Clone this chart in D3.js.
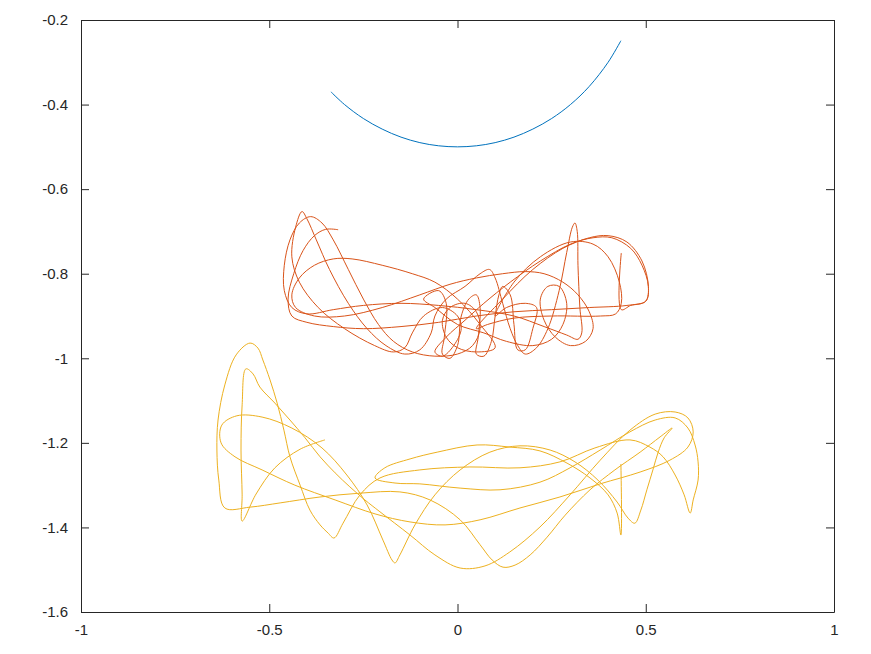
<!DOCTYPE html>
<html><head><meta charset="utf-8">
<script src="https://cdn.jsdelivr.net/npm/d3@7"></script>
<style>body{margin:0;background:#fff}svg{display:block}</style>
</head><body>
<svg id="c" width="871" height="654"></svg>
<script>
const xTicks = [-1, -0.5, 0, 0.5, 1];
const xTickLabels = ["-1", "-0.5", "0", "0.5", "1"];
const yTicks = [-1.6, -1.4, -1.2, -1, -0.8, -0.6, -0.4, -0.2];
const yTickLabels = ["-1.6", "-1.4", "-1.2", "-1", "-0.8", "-0.6", "-0.4", "-0.2"];
const seriesNames = ["bob1", "bob2", "bob3"];
const seriesColors = ["#0072BD", "#D95319", "#EDB120"];

const bob1 = [[-0.336,-0.370],[-0.30,-0.400],[-0.25,-0.433],[-0.20,-0.458],[-0.15,-0.477],[-0.10,-0.490],[-0.05,-0.4975],[0,-0.500],[0.05,-0.4975],[0.10,-0.490],[0.15,-0.477],[0.20,-0.458],[0.25,-0.433],[0.30,-0.400],[0.35,-0.357],[0.40,-0.300],[0.434,-0.249]];

const bob2 = [
[-0.317,-0.696],[-0.35,-0.695],[-0.38,-0.71],[-0.41,-0.745],[-0.435,-0.80],[-0.45,-0.86],[-0.44,-0.90],[-0.40,-0.915],
[-0.33,-0.925],[-0.25,-0.93],[-0.15,-0.925],[-0.05,-0.915],[0.05,-0.90],[0.15,-0.89],[0.25,-0.885],[0.35,-0.88],[0.45,-0.875],[0.50,-0.865],
[0.507,-0.83],[0.49,-0.78],[0.46,-0.74],[0.41,-0.715],[0.36,-0.715],[0.30,-0.73],[0.22,-0.77],[0.14,-0.82],[0.07,-0.87],[0.02,-0.91],[-0.03,-0.95],[-0.06,-0.985],[-0.04,-0.995],[-0.01,-0.97],[0.01,-0.93],
[0.0,-0.90],[-0.04,-0.88],[-0.09,-0.90],[-0.12,-0.94],[-0.14,-0.975],[-0.17,-0.985],[-0.22,-0.97],[-0.30,-0.93],[-0.37,-0.88],[-0.42,-0.82],[-0.44,-0.76],[-0.43,-0.69],[-0.413,-0.653],[-0.40,-0.67],[-0.375,-0.72],[-0.34,-0.79],[-0.29,-0.87],[-0.24,-0.93],[-0.19,-0.97],[-0.14,-0.99],[-0.10,-0.98],[-0.07,-0.94],[-0.06,-0.90],
[-0.03,-0.86],[0.02,-0.83],[0.06,-0.80],[0.085,-0.79],[0.10,-0.81],[0.12,-0.87],[0.14,-0.93],[0.16,-0.97],[0.18,-0.99],[0.21,-0.975],[0.24,-0.93],[0.27,-0.84],[0.29,-0.75],[0.305,-0.69],[0.312,-0.68],[0.318,-0.70],[0.32,-0.78],[0.325,-0.88],[0.33,-0.94],[0.32,-0.955],[0.29,-0.945],[0.23,-0.925],[0.15,-0.90],[0.05,-0.885],[-0.05,-0.875],[-0.15,-0.87],[-0.25,-0.875],[-0.33,-0.885],[-0.40,-0.895],[-0.44,-0.88],
[-0.46,-0.84],[-0.46,-0.78],[-0.445,-0.72],[-0.42,-0.68],[-0.39,-0.665],[-0.36,-0.68],[-0.33,-0.72],[-0.29,-0.79],[-0.25,-0.86],[-0.21,-0.92],[-0.17,-0.96],[-0.12,-0.985],[-0.06,-0.995],[0.0,-0.99],[0.04,-0.97],
[0.06,-0.93],[0.05,-0.89],[0.02,-0.87],[-0.02,-0.88],[-0.04,-0.91],[-0.03,-0.95],[0.0,-0.975],[0.05,-0.985],[0.10,-0.975],
[0.06,-0.92],[0.0,-0.86],[-0.06,-0.82],[-0.12,-0.80],[-0.20,-0.78],[-0.28,-0.765],[-0.33,-0.765],[-0.38,-0.78],[-0.42,-0.81],[-0.44,-0.85],[-0.43,-0.88],[-0.38,-0.90],[-0.30,-0.90],[-0.20,-0.88],[-0.10,-0.85],[-0.02,-0.825],[0.05,-0.81],[0.12,-0.80],[0.18,-0.795],[0.23,-0.80],[0.28,-0.82],[0.32,-0.85],[0.35,-0.89],[0.36,-0.93],[0.34,-0.96],
[0.30,-0.97],[0.26,-0.95],[0.23,-0.91],[0.22,-0.86],[0.24,-0.83],[0.27,-0.83],[0.29,-0.87],[0.28,-0.92],[0.25,-0.955],[0.20,-0.97],[0.13,-0.96],[0.07,-0.94],
[0.0,-0.92],[-0.06,-0.88],[-0.09,-0.86],[-0.05,-0.84],[-0.03,-0.87],[-0.035,-0.95],[-0.04,-0.99],[-0.02,-1.0],[0.0,-0.97],[0.01,-0.90],[0.03,-0.86],[0.05,-0.85],[0.06,-0.88],[0.055,-0.95],[0.05,-0.99],[0.07,-0.995],[0.09,-0.96],[0.10,-0.90],[0.11,-0.85],[0.12,-0.83],[0.14,-0.85],[0.15,-0.92],[0.16,-0.98],[0.18,-0.98],[0.20,-0.93],[0.21,-0.88],[0.18,-0.87],[0.13,-0.88],
[0.10,-0.90],[0.15,-0.82],[0.22,-0.76],[0.30,-0.725],[0.36,-0.73],[0.40,-0.76],[0.43,-0.82],[0.435,-0.87],[0.42,-0.895],[0.38,-0.90],[0.25,-0.90],[0.15,-0.905],[0.08,-0.92],
[0.05,-0.93],[0.12,-0.86],[0.20,-0.79],[0.28,-0.74],[0.35,-0.715],[0.40,-0.71],[0.45,-0.725],[0.49,-0.77],[0.507,-0.83],[0.50,-0.865],[0.46,-0.875],[0.435,-0.885],[0.435,-0.751]
];

const bob3 = [
[-0.352,-1.193],[-0.418,-1.215],[-0.485,-1.259],[-0.535,-1.321],[-0.572,-1.385],
[-0.572,-1.323],[-0.575,-1.217],[-0.572,-1.110],[-0.562,-1.025],[-0.543,-1.037],[-0.525,-1.068],[-0.485,-1.106],[-0.445,-1.146],[-0.405,-1.188],[-0.365,-1.233],[-0.325,-1.271],[-0.286,-1.304],[-0.246,-1.335],[-0.206,-1.363],[-0.126,-1.418],[-0.060,-1.465],[0.007,-1.496],[0.073,-1.491],[0.139,-1.458],[0.219,-1.399],[0.299,-1.323],[0.379,-1.241],[0.458,-1.170],[0.525,-1.132],[0.578,-1.127],[0.612,-1.141],[0.626,-1.174],[0.612,-1.210],[0.564,-1.241],[0.485,-1.269],[0.379,-1.297],[0.272,-1.328],[0.166,-1.354],[0.060,-1.382],[-0.033,-1.394],[-0.126,-1.387],[-0.219,-1.368],[-0.325,-1.335],[-0.432,-1.300],[-0.519,-1.264],[-0.591,-1.233],[-0.628,-1.200],[-0.626,-1.158],[-0.586,-1.136],[-0.519,-1.139],[-0.440,-1.165],[-0.360,-1.212],[-0.294,-1.276],[-0.240,-1.347],[-0.198,-1.430],[-0.174,-1.477],[-0.166,-1.484],[-0.153,-1.465],[-0.113,-1.394],[-0.060,-1.323],[0.007,-1.264],[0.086,-1.222],[0.166,-1.207],[0.246,-1.217],[0.312,-1.245],[0.373,-1.288],[0.424,-1.340],[0.453,-1.378],[0.471,-1.390],[0.487,-1.359],[0.503,-1.311],[0.519,-1.264],[0.533,-1.222],[0.549,-1.188],[0.570,-1.165],[0.538,-1.186],[0.485,-1.222],[0.418,-1.264],[0.352,-1.311],[0.286,-1.371],[0.238,-1.423],[0.193,-1.465],[0.153,-1.489],[0.121,-1.494],
[0.092,-1.477],[0.060,-1.441],[0.007,-1.382],[-0.073,-1.335],[-0.153,-1.316],[-0.259,-1.319],[-0.365,-1.328],[-0.471,-1.342],[-0.551,-1.352],[-0.618,-1.354],
[-0.634,-1.288],[-0.639,-1.217],[-0.636,-1.146],[-0.618,-1.063],[-0.588,-0.992],[-0.551,-0.964],[-0.530,-0.976],[-0.517,-1.004],[-0.498,-1.051],[-0.479,-1.106],[-0.461,-1.170],[-0.445,-1.233],[-0.418,-1.300],[-0.392,-1.359],[-0.365,-1.394],[-0.344,-1.413],[-0.328,-1.425],[-0.304,-1.390],[-0.259,-1.323],[-0.206,-1.283],[-0.100,-1.264],[0.033,-1.257],[0.166,-1.259],[0.272,-1.245],[0.365,-1.212],[0.458,-1.193],[0.511,-1.210],[0.546,-1.233],[0.578,-1.276],[0.602,-1.323],[0.618,-1.366],
[0.626,-1.335],[0.639,-1.288],[0.639,-1.245],[0.631,-1.205],[0.612,-1.165],[0.578,-1.141],[0.525,-1.146],[0.458,-1.174],[0.379,-1.217],[0.299,-1.259],[0.219,-1.293],[0.113,-1.311],[0.007,-1.307],[-0.100,-1.297],[-0.166,-1.295],[-0.219,-1.283],[-0.193,-1.259],[-0.126,-1.238],[-0.054,-1.222],[0.052,-1.205],[0.139,-1.210],[0.219,-1.219],[0.291,-1.248],[0.352,-1.283],[0.400,-1.323],[0.424,-1.366],[0.434,-1.418],[0.434,-1.250]
];

const series = [bob1, bob2, bob3];

const W = 871, H = 654;
const m = {left: 81, right: 37, top: 20, bottom: 42};
const svg = d3.select("#c");
const x = d3.scaleLinear().domain([-1, 1]).range([m.left, W - m.right]);
const y = d3.scaleLinear().domain([-1.6, -0.2]).range([H - m.bottom, m.top]);

const font = "'Liberation Sans', Arial, Helvetica, sans-serif";
const line = d3.line().x(d => x(d[0])).y(d => y(d[1])).curve(d3.curveCatmullRom.alpha(0.5));

const plot = svg.append("g");
series.forEach((s, i) => {
  plot.append("path").datum(s).attr("fill", "none").attr("stroke", seriesColors[i])
    .attr("stroke-width", 1).attr("d", line).attr("class", seriesNames[i]);
});

function styleAxis(g, labels) {
  g.select(".domain").attr("stroke", "#262626");
  g.selectAll(".tick line").attr("stroke", "#262626");
  g.selectAll("text").attr("fill", "#262626").style("font-family", font).style("font-size", "15px");
  if (!labels) g.selectAll("text").remove();
}
const tick = -8;
svg.append("g").attr("transform", `translate(0,${H - m.bottom})`)
  .call(d3.axisBottom(x).tickValues(xTicks).tickFormat((d, i) => xTickLabels[i]).tickSize(tick).tickPadding(12).tickSizeOuter(0))
  .call(g => styleAxis(g, true));
svg.append("g").attr("transform", `translate(0,${m.top})`)
  .call(d3.axisTop(x).tickValues(xTicks).tickSize(tick).tickSizeOuter(0))
  .call(g => styleAxis(g, false));
svg.append("g").attr("transform", `translate(${m.left},0)`)
  .call(d3.axisLeft(y).tickValues(yTicks).tickFormat((d, i) => yTickLabels[i]).tickSize(tick).tickPadding(13).tickSizeOuter(0))
  .call(g => styleAxis(g, true));
svg.append("g").attr("transform", `translate(${W - m.right},0)`)
  .call(d3.axisRight(y).tickValues(yTicks).tickSize(tick).tickSizeOuter(0))
  .call(g => styleAxis(g, false));
</script>
</body></html>
